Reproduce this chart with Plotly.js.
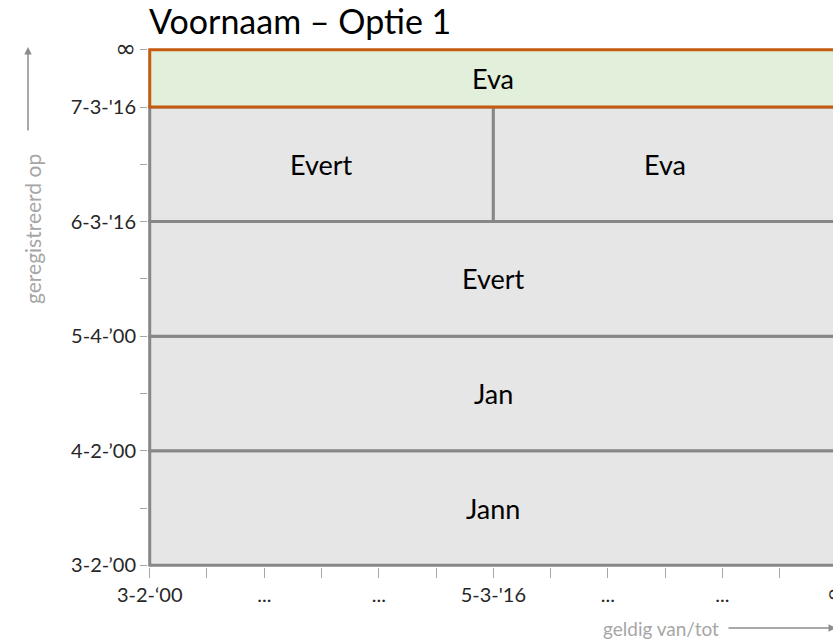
<!DOCTYPE html>
<html>
<head>
<meta charset="utf-8">
<script src="https://cdn.plot.ly/plotly-3.0.1.min.js"></script>
<style>
html,body{margin:0;padding:0;overflow:hidden;background:#fff;width:833px;height:642px;}
#chart{width:860px;height:642px;}
</style>
</head>
<body>
<div id="chart"></div>
<script>
// Tick positions and labels
const INF = '<span style="font-family:DejaVu Sans;font-size:25px">\u221E</span>';
const xTickVals = [0,1,2,3,4,5,6,7,8,9,10,11,12];
const xTickText = ["3-2-\u201800","","...","","...","","5-3-'16","","...","","...","",INF];
const yTickVals = [0,1,2,3,4,5,6,7,8,9];
const yTickText = ["3-2-\u201900","","4-2-\u201900","","5-4-\u201900","","6-3-'16","","7-3-'16",INF];

// Records: valid-from / valid-to (x), registered-from / registered-to (y)
const recLabels = ["Jann","Jan","Evert","Evert","Eva","Eva"];
const recX0 = [0,0,0,0,6,0];
const recX1 = [12,12,12,6,12,12];
const recY0 = [0,2,4,6,6,8];
const recY1 = [2,4,6,8,8,9];
const recCurrent = [false,false,false,false,false,true];

// geometry of plot area (pixels)
const W = 860, H = 642, ML = 148, MR = 23, MT = 48, MB = 75;
const PW = W - ML - MR, PH = H - MT - MB;
const fx = px => (px - ML) / PW;
const fy = py => (H - MB - py) / PH;

const shapes = [];
const annotations = [];
for (let i = 0; i < recLabels.length; i++) {
  const cur = recCurrent[i];
  shapes.push({
    type: 'rect', xref: 'x', yref: 'y',
    x0: recX0[i], x1: recX1[i], y0: recY0[i], y1: recY1[i],
    fillcolor: cur ? '#e2efda' : '#e6e6e6',
    line: {color: cur ? '#c55a11' : '#878787', width: 3},
    layer: 'above'
  });
  annotations.push({
    xref: 'x', yref: 'y',
    x: (recX0[i] + recX1[i]) / 2, y: (recY0[i] + recY1[i]) / 2,
    text: recLabels[i], showarrow: false, xanchor: 'center', yanchor: 'middle',
    font: {family: 'Lato', size: 27, color: '#000'}
  });
}

annotations.push(
  {text: 'geregistreerd op', xref: 'x domain', yref: 'y domain',
   x: fx(33), y: fy(229), xanchor: 'center', yanchor: 'middle',
   textangle: -90, showarrow: false, font: {family: 'Lato', size: 21, color: '#a6a6a6'}},
  {text: '', xref: 'x domain', yref: 'y domain',
   x: fx(28), y: fy(47), axref: 'x domain', ayref: 'y domain', ax: fx(28), ay: fy(132),
   showarrow: true, arrowhead: 2, arrowsize: 1, arrowwidth: 1.5, arrowcolor: '#8c8c8c'},
  {text: 'geldig van/tot', xref: 'x domain', yref: 'y domain',
   x: fx(661), y: fy(628), xanchor: 'center', yanchor: 'middle',
   showarrow: false, font: {family: 'Lato', size: 19, color: '#a6a6a6'}},
  {text: '', xref: 'x domain', yref: 'y domain',
   x: fx(836), y: fy(628), axref: 'x domain', ayref: 'y domain', ax: fx(727), ay: fy(628),
   showarrow: true, arrowhead: 2, arrowsize: 1, arrowwidth: 1.5, arrowcolor: '#8c8c8c'}
);

const layout = {
  width: W, height: H,
  margin: {l: ML, r: MR, t: MT, b: MB},
  paper_bgcolor: '#fff', plot_bgcolor: '#fff',
  title: {text: 'Voornaam \u2013 Optie 1', font: {family: 'Lato', size: 34, color: '#000'},
          xref: 'paper', x: fx(149), xanchor: 'left', yref: 'container', y: 1 - 22 / H, yanchor: 'middle'},
  xaxis: {range: [-0.03, 12], tickmode: 'array', tickvals: xTickVals, ticktext: xTickText,
          ticks: 'outside', ticklen: 10, tickwidth: 1, tickcolor: '#a6a6a6',
          showline: false, showgrid: false, zeroline: false,
          tickfont: {family: 'Lato', size: 20, color: '#262626'}, fixedrange: true},
  yaxis: {range: [-0.03, 9.03], tickmode: 'array', tickvals: yTickVals, ticktext: yTickText,
          ticks: 'outside', ticklen: 7, tickwidth: 1, tickcolor: '#a6a6a6',
          showline: false, showgrid: false, zeroline: false,
          tickfont: {family: 'Lato', size: 20, color: '#262626'}, fixedrange: true},
  shapes: shapes,
  annotations: annotations,
  showlegend: false,
  font: {family: 'Lato'}
};

Plotly.newPlot('chart', [], layout, {displayModeBar: false, staticPlot: true});
</script>
</body>
</html>
